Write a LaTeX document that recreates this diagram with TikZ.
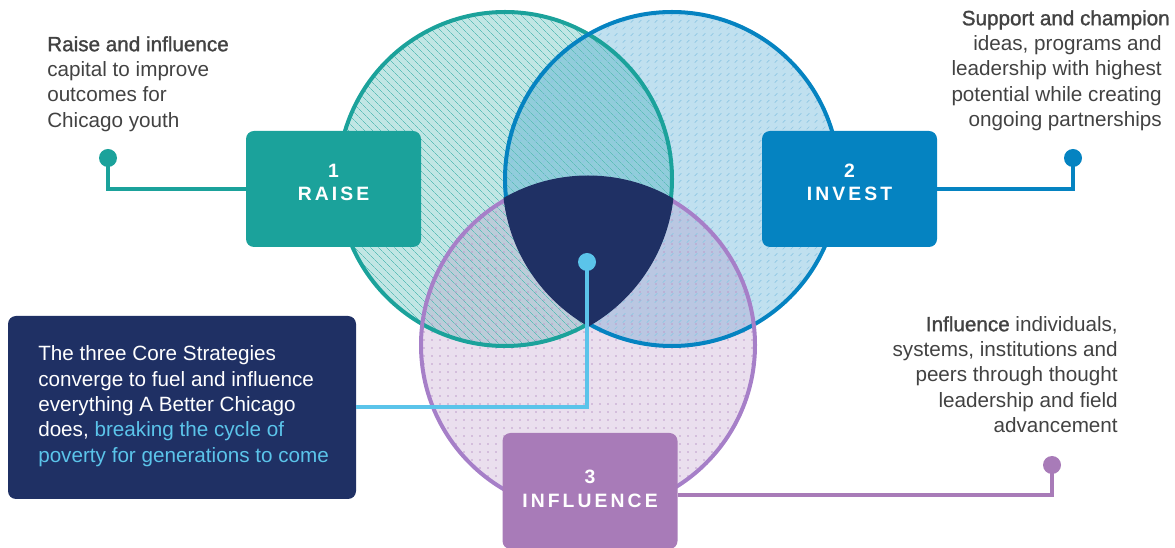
\documentclass[tikz,border=0pt]{standalone}
\usepackage{fontspec}
\setmainfont{Liberation Sans}
\newfontfamily\capsfont[LetterSpace=16]{Liberation Sans}
\newfontfamily\medfont[FakeBold=1.3]{Liberation Sans}
\usetikzlibrary{patterns.meta}

\definecolor{raiseC}{HTML}{1BA29B}
\definecolor{investC}{HTML}{0583C1}
\definecolor{inflC}{HTML}{A87BB8}
\definecolor{inflRing}{HTML}{A67FC8}
\definecolor{navyC}{HTML}{1F3064}
\definecolor{cyanC}{HTML}{5BC4EA}
\definecolor{bodyC}{HTML}{424242}

% short diagonal ticks used inside the INVEST circle
\tikzdeclarepattern{
  name=ticks,
  type=uncolored,
  bounding box={(-1.5pt,-1.5pt) and (1.5pt,1.5pt)},
  tile size={(6pt,5pt)},
  code={\draw[line width=0.5pt] (-1pt,-1pt) -- (1pt,1pt);}
}

\begin{document}
\begin{tikzpicture}[x=0.75pt,y=-0.75pt,
  ring/.style={line width=3pt},
  catbox/.style={rounded corners=6pt, minimum width=131.25pt, minimum height=87pt, inner sep=0pt},
  catlabel/.style={text=white, font=\capsfont\bfseries\fontsize{14.5}{17.5}\selectfont, align=center, inner sep=0pt},
  body/.style={text=bodyC, font=\fontsize{15.5}{19}\selectfont, inner sep=0pt},
  pin/.style={circle, minimum size=13.5pt, inner sep=0pt},
  link/.style={line width=3pt},
]
\useasboundingbox (0,0) rectangle (1175,548);

\coordinate (cA) at (505,179);
\coordinate (cB) at (672,179);
\coordinate (cC) at (588,345);

% tinted discs
\fill[raiseC, fill opacity=0.27] (cA) circle[radius=167];
\fill[investC, fill opacity=0.25] (cB) circle[radius=167];
\fill[inflC, fill opacity=0.24] (cC) circle[radius=167];

% textures
\fill[pattern={Lines[angle=-45,distance=4pt,line width=0.4pt]}, pattern color=raiseC!70] (cA) circle[radius=167];
\fill[pattern=ticks, pattern color=investC!45] (cB) circle[radius=167];
\fill[pattern={Dots[radius=0.6pt,distance=6pt]}, pattern color=inflC!75] (cC) circle[radius=167];

% outlines
\draw[ring, raiseC] (cA) circle[radius=167];
\draw[ring, investC] (cB) circle[radius=167];
\draw[ring, inflRing] (cC) circle[radius=167];

% common core of the three strategies
\begin{scope}
  \clip (cA) circle[radius=169.5];
  \clip (cB) circle[radius=169.5];
  \fill[navyC] (cC) circle[radius=169.5];
\end{scope}

% strategy boxes
\node[catbox, fill=raiseC] (raiseBox) at (333.5,189) {};
\node[catbox, fill=investC] (investBox) at (849.5,189) {};
\node[catbox, fill=inflC] (inflBox) at (590,491) {};
\node[catlabel] (raiseLbl) at ([yshift=5pt]raiseBox.center) {1\\RAISE};
\node[catlabel] (investLbl) at ([yshift=5pt]investBox.center) {2\\INVEST};
\node[catlabel] (inflLbl) at ([yshift=1.7pt]inflBox.center) {3\\INFLUENCE};

% summary box
\node[catbox, fill=navyC, minimum width=261pt, minimum height=137.25pt] (coreBox) at (182,407.5) {};
\node[body, text=white, anchor=west, align=left] (coreTxt) at (38,406)
  {The three Core Strategies\\converge to fuel and influence\\everything A Better Chicago\\does, \textcolor{cyanC}{breaking the cycle of}\\\textcolor{cyanC}{poverty for generations to come}};

% pins and leader lines
\node[pin, fill=raiseC] (raiseDot) at (108,158) {};
\node[pin, fill=investC] (investDot) at (1073,158) {};
\node[pin, fill=inflC] (inflDot) at (1052,465) {};
\node[pin, fill=cyanC] (coreDot) at (587,262) {};
\draw[link, raiseC] (raiseBox.west) -| (raiseDot.center);
\draw[link, investC] (investBox.east) -| (investDot.center);
\draw[link, inflC] ([yshift=-3pt]inflBox.east) -| (inflDot.center);
\draw[link, cyanC] (coreBox.east) -| (coreDot.center);

% descriptions
\node[body, anchor=north west, align=left] (raiseTxt) at (47,36)
  {{\medfont Raise and influence}\\capital to improve\\outcomes for\\Chicago youth};
\node[body, anchor=north east, align=right] (investTxt) at (1162,10)
  {{\medfont Support and champion}\hspace*{-6pt}\\ideas, programs and\\leadership with highest\\potential while creating\\ongoing partnerships};
\node[body, anchor=north east, align=right] (inflTxt) at (1118,316)
  {{\medfont Influence} individuals,\\systems, institutions and\\peers through thought\\leadership and field\\advancement};
\end{tikzpicture}
\end{document}
